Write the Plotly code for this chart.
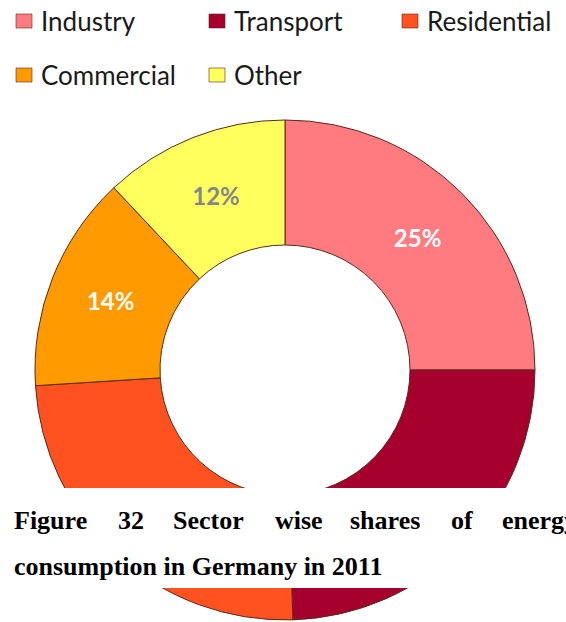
import plotly.graph_objects as go

# Sector shares of final energy consumption, Germany 2011 (%)
sectors = ["Industry", "Transport", "Residential", "Commercial", "Other"]
shares = [25, 24.5, 24.5, 14, 12]
slice_colors = ["#FF7B80", "#A6002E", "#FF5220", "#FF9A00", "#FFFF5E"]
label_colors = ["#FFFFFF", "#7A0022", "#FFFFFF", "#FFFFFF", "#85868A"]
# slices whose value label sits under the caption panel carry no label
show_label = [True, False, False, True, True]

caption_line1 = ["Figure", "32", "Sector", "wise", "shares", "of", "energy"]
caption_line2 = "consumption in Germany in 2011"

W, H = 566, 622


def px(x):
    return x / W


def py(y):
    return 1 - y / H


fig = go.Figure()
fig.add_trace(go.Pie(
    labels=sectors,
    values=shares,
    sort=False,
    direction="clockwise",
    rotation=0,
    hole=0.5,
    marker=dict(colors=slice_colors, line=dict(color="#5a2a1a", width=1)),
    texttemplate=["%{value}%" if s else "" for s in show_label],
    textposition="inside",
    insidetextorientation="horizontal",
    textfont=dict(family="Lato", size=24, color=label_colors, weight="bold"),
    domain=dict(x=[px(35), px(535)], y=[py(620), py(120)]),
    showlegend=False,
    hoverinfo="label+percent",
))

shapes = []
annotations = []

# legend: three entries per row
for i, (name, col) in enumerate(zip(sectors, slice_colors)):
    x0 = 16 + 193 * (i % 3)
    yc = 21 + 54 * (i // 3)
    shapes.append(dict(
        type="rect", xref="paper", yref="paper",
        x0=px(x0), x1=px(x0 + 16), y0=py(yc + 7), y1=py(yc - 7),
        fillcolor=col, line=dict(color="rgba(90,40,30,0.6)", width=1),
    ))
    annotations.append(dict(
        x=px(x0 + 23), y=py(yc), xref="paper", yref="paper",
        xanchor="left", yanchor="middle", showarrow=False,
        text=name, font=dict(family="Lato", size=26, color="#1a1a1a"),
    ))

# caption panel laid over the lower part of the ring
shapes.append(dict(
    type="rect", xref="paper", yref="paper", layer="above",
    x0=0, x1=1, y0=py(588), y1=py(488),
    fillcolor="white", line=dict(width=0),
))

caption_font = dict(family="Liberation Serif", size=26, color="#000000", weight="bold")
word_x = [12, 116, 171, 273, 348, 449, 500]
for word, x in zip(caption_line1, word_x):
    annotations.append(dict(
        x=px(x), y=py(520), xref="paper", yref="paper",
        xanchor="left", yanchor="middle", showarrow=False,
        text=word, font=caption_font,
    ))
annotations.append(dict(
    x=px(12), y=py(566), xref="paper", yref="paper",
    xanchor="left", yanchor="middle", showarrow=False,
    text=caption_line2, font=caption_font,
))

fig.update_layout(
    width=W, height=H,
    margin=dict(l=0, r=0, t=0, b=0),
    paper_bgcolor="white",
    plot_bgcolor="white",
    shapes=shapes,
    annotations=annotations,
)

fig.write_html("out.html")
